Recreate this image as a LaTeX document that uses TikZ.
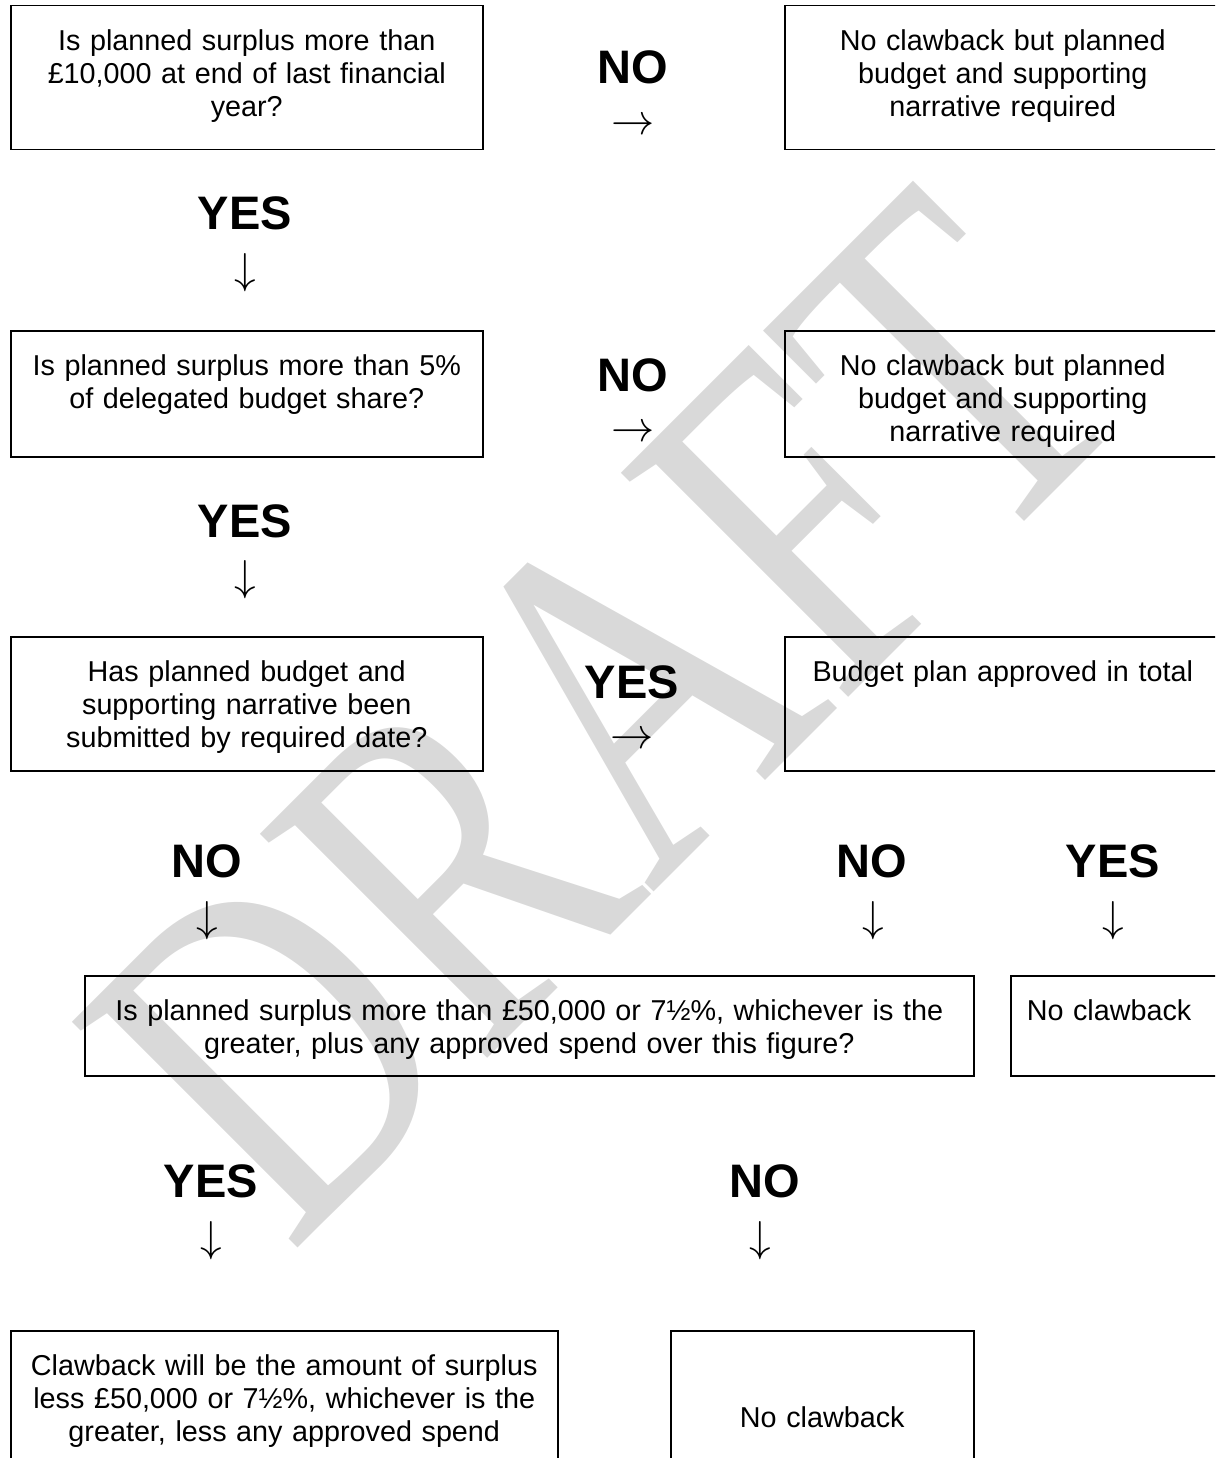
\documentclass[tikz,border=0pt]{standalone}
\usepackage{fontspec}
\setmainfont{Liberation Sans}
\newfontfamily\wmfont{Liberation Serif}

\begin{document}
\begin{tikzpicture}[x=0.4pt,y=-0.4pt,
		qbox/.style={draw,line width=0.6pt,anchor=north west,inner sep=0pt,align=center,
			font=\fontsize{11.5pt}{13.1pt}\selectfont,text height=18pt},
		ans/.style={font=\fontsize{18.8pt}{21pt}\selectfont\bfseries,inner sep=0pt,anchor=base},
		harr/.style={font=\fontsize{18pt}{20pt}\selectfont,inner sep=0pt},
		varr/.style={font=\fontsize{18.5pt}{20pt}\selectfont,inner sep=0pt}]
		\useasboundingbox (0,0) rectangle (1215,1458);
		\clip (0,0) rectangle (1215,1458);
		%watermark behind everything
		\node [black!15,anchor=base west,inner sep=0pt,rotate=45,xscale=0.755,
			font=\wmfont\fontsize{195pt}{195pt}\selectfont] (wm) at (290,1256) {DRAFT};
		%the boxes
		\node [qbox,text width=188.8pt,text depth=39.6pt] (q1) at (10,5) {Is planned surplus more than\\£10,000 at end of last financial\\year?};
		\node [qbox,text width=174.4pt,text depth=39.6pt] (r1) at (784,5) {No clawback but planned\\budget and supporting\\narrative required};
		\node [qbox,text width=188.8pt,text depth=32.4pt] (q2) at (10,330) {Is planned surplus more than 5\%\\of delegated budget share?};
		\node [qbox,text width=174.4pt,text depth=32.4pt] (r2) at (784,330) {No clawback but planned\\budget and supporting\\narrative required};
		\node [qbox,text width=188.8pt,text depth=35.6pt] (q3) at (10,636) {Has planned budget and\\supporting narrative been\\submitted by required date?};
		\node [qbox,text width=174.4pt,text depth=35.6pt] (r3) at (784,636) {Budget plan approved in total};
		\node [qbox,text width=355.6pt,text depth=22pt] (q4) at (84,975) {Is planned surplus more than £50,000 or 7½\%, whichever is the\\greater, plus any approved spend over this figure?};
		\node [qbox,text width=80pt,inner xsep=6.4pt,align=left,text depth=22pt] (r4) at (1010,975) {No clawback};
		\node [qbox,text width=218.8pt,text depth=61.6pt] (q5) at (10,1330) {Clawback will be the amount of surplus\\less £50,000 or 7½\%, whichever is the\\greater, less any approved spend};
		\node [qbox,text width=121.2pt,text height=38.8pt,text depth=40pt] (r5) at (670,1330) {No clawback};
		%answers and their arrows
		\node [ans] (n1) at (633,84) {NO};
		\node [harr] (a1) at (633,127) {$\rightarrow$};
		\node [ans] (y1) at (245,230) {YES};
		\node [varr] (a2) at (245,273) {$\downarrow$};
		\node [ans] (n2) at (633,391) {NO};
		\node [harr] (a3) at (633,434) {$\rightarrow$};
		\node [ans] (y2) at (245,537) {YES};
		\node [varr] (a4) at (245,580) {$\downarrow$};
		\node [ans] (y3) at (632,698) {YES};
		\node [harr] (a5) at (632,741) {$\rightarrow$};
		\node [ans] (n3) at (207,877) {NO};
		\node [varr] (a6) at (207,921) {$\downarrow$};
		\node [ans] (n4) at (872,877) {NO};
		\node [varr] (a7) at (873,921) {$\downarrow$};
		\node [ans] (y4) at (1113,877) {YES};
		\node [varr] (a8) at (1113,921) {$\downarrow$};
		\node [ans] (y5) at (211,1197) {YES};
		\node [varr] (a9) at (211,1241) {$\downarrow$};
		\node [ans] (n5) at (765,1197) {NO};
		\node [varr] (a10) at (760,1241) {$\downarrow$};
\end{tikzpicture}
\end{document}
